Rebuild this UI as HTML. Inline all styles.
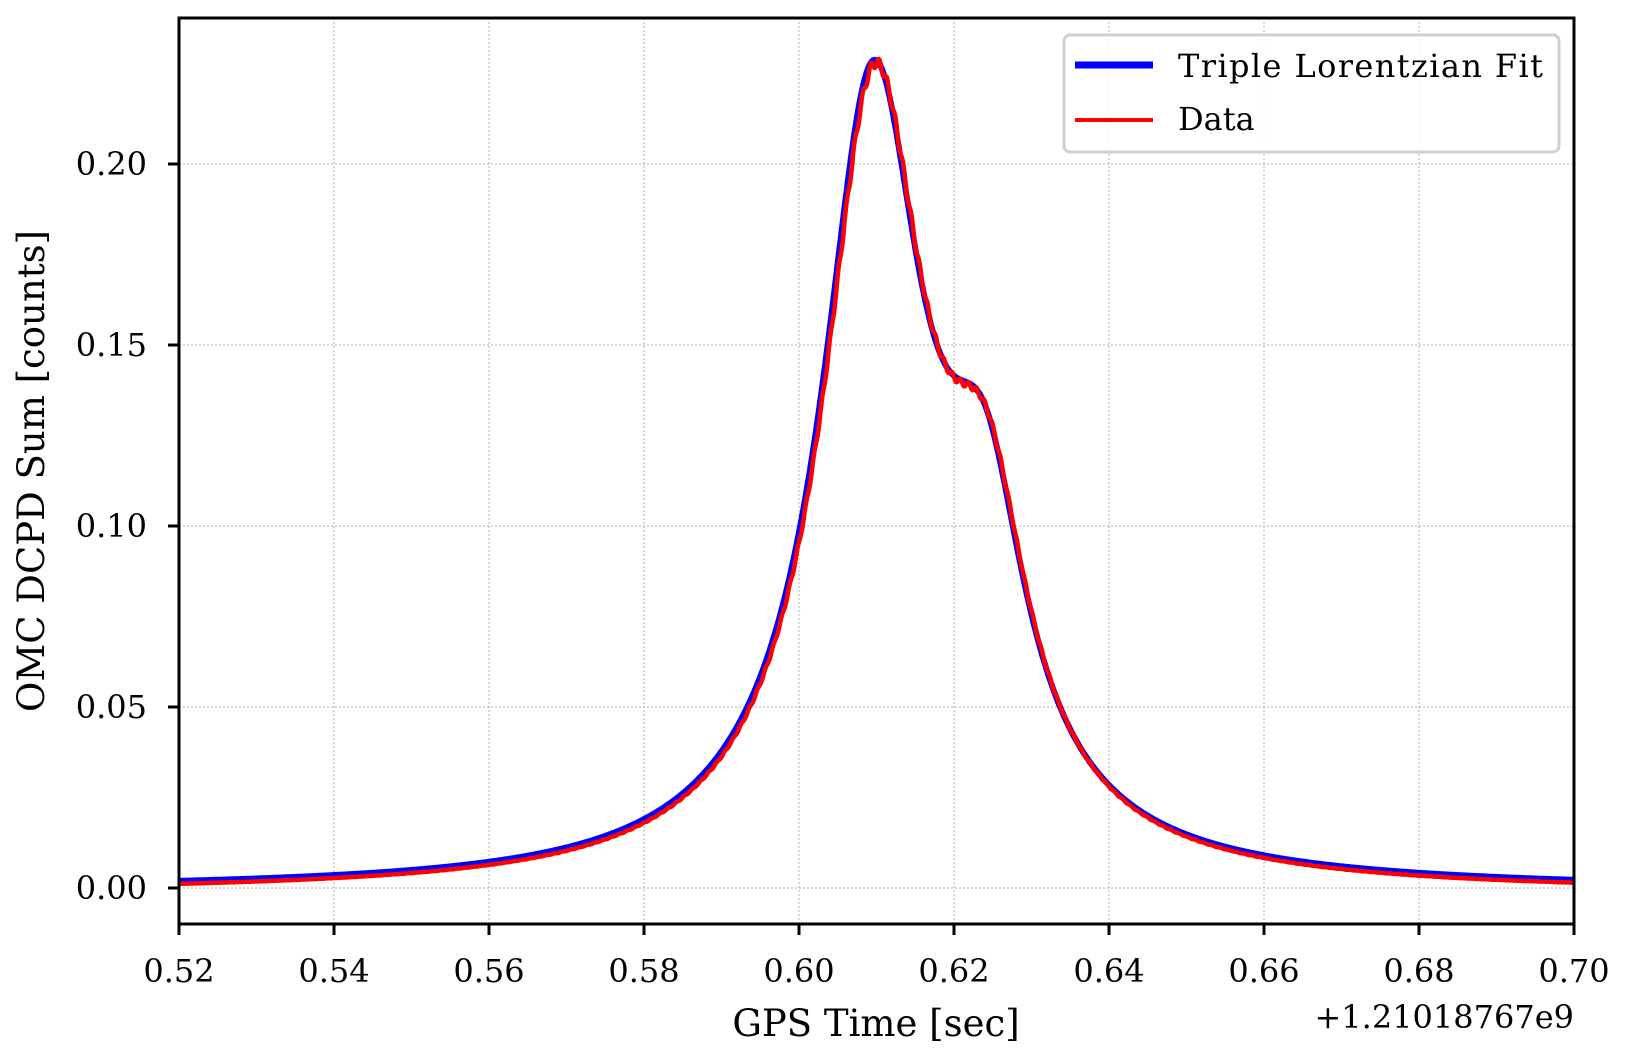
<!DOCTYPE html>
<html><head><meta charset="utf-8"><style>html,body{margin:0;padding:0;background:#fff}</style></head>
<body>
<svg id="s" width="1627" height="1059" xmlns="http://www.w3.org/2000/svg" font-family="'DejaVu Serif','Liberation Serif',serif">
<rect width="1627" height="1059" fill="#fff"/>
<g id="grid" stroke="#b0b0b0" stroke-width="1" stroke-dasharray="2,2"></g>
<g id="curves" fill="none" stroke-linejoin="round"></g>
<rect x="179" y="18" width="1395" height="906" fill="none" stroke="#000" stroke-width="3"/>
<g id="ticks" stroke="#000" stroke-width="3"></g>
<g id="labels" font-size="32" fill="#000"></g>
<text x="876" y="1036" font-size="37" text-anchor="middle">GPS Time [sec]</text>
<text x="1574" y="1028" font-size="32" text-anchor="end">+1.21018767e9</text>
<text transform="translate(44,471) rotate(-90)" font-size="37" text-anchor="middle">OMC DCPD Sum [counts]</text>
<rect x="1064" y="35" width="495" height="117" rx="6" fill="#fff" fill-opacity="0.85" stroke="#d0d0d0" stroke-width="3"/>
<line x1="1075" y1="65" x2="1153" y2="65" stroke="#0000ff" stroke-width="7"/>
<line x1="1075" y1="120" x2="1153" y2="120" stroke="#ff0000" stroke-width="4"/>
<text x="1178" y="77" font-size="32" textLength="365">Triple Lorentzian Fit</text>
<text x="1178" y="130" font-size="32">Data</text>
</svg>
<script>
var NS="http://www.w3.org/2000/svg";
function X(v){return 179+(v-0.52)*7750;}
function Y(v){return 888-3620*v;}
function el(p,t,a){var e=document.createElementNS(NS,t);for(var k in a)e.setAttribute(k,a[k]);p.appendChild(e);return e;}
var g=document.getElementById('grid'),tk=document.getElementById('ticks'),lb=document.getElementById('labels');
for(var i=0;i<=9;i++){var v=0.52+0.02*i,x=X(v);
 if(i>0&&i<9)el(g,'line',{x1:x,y1:18,x2:x,y2:924});
 el(tk,'line',{x1:x,y1:924,x2:x,y2:935});
 var t=el(lb,'text',{x:x,y:982,'text-anchor':'middle'});t.textContent=v.toFixed(2);}
for(var j=0;j<=4;j++){var v=0.05*j,y=Y(v);
 el(g,'line',{x1:179,y1:y,x2:1574,y2:y});
 el(tk,'line',{x1:168,y1:y,x2:179,y2:y});
 var t=el(lb,'text',{x:147,y:y+11,'text-anchor':'end'});t.textContent=v.toFixed(2);}
function L(x,a,c,w){var d=(x-c)/w;return a/(1+d*d);}
function f(x){return L(x,0.195,0.6095,0.0078)+L(x,0.075,0.624,0.0065)+L(x,0.022,0.612,0.018)-0.0006;}
var c=document.getElementById('curves'),p1="",p2="";
for(var k=0;k<=1800;k++){var x=0.52+0.18*k/1800,y=f(x);
 p1+=(k?"L":"M")+X(x).toFixed(1)+","+Y(y).toFixed(1);
 var d=f(x-0.0002)+0.006*y*Math.sin(k*0.6)-0.0008;
 p2+=(k?"L":"M")+X(x).toFixed(1)+","+Y(d).toFixed(1);}
el(c,'path',{d:p1,stroke:'#0000ff','stroke-width':6});
el(c,'path',{d:p2,stroke:'#ff0000','stroke-width':4.5});
</script>
</body></html>
